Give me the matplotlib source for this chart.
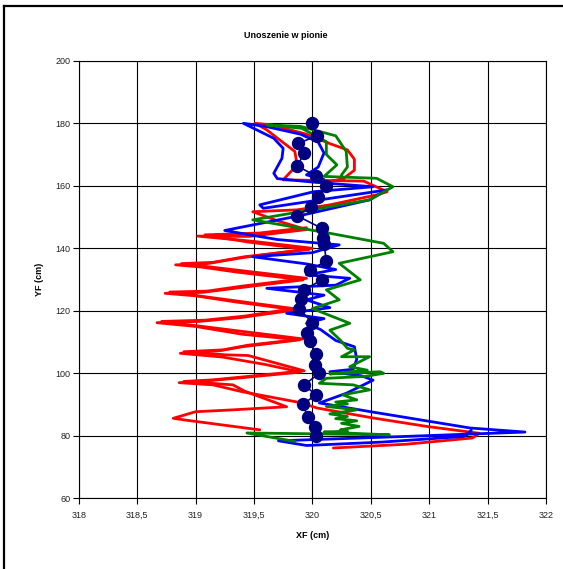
import matplotlib
matplotlib.use("Agg")
import matplotlib.pyplot as plt
from matplotlib.lines import Line2D

plt.rcParams['font.family'] = ['Liberation Sans', 'DejaVu Sans']

TITLE = "Unoszenie w pionie"
XLABEL = "XF (cm)"
YLABEL = "YF (cm)"
X_TICKS = [318, 318.5, 319, 319.5, 320, 320.5, 321, 321.5, 322]
X_TICK_LABELS = ["318", "318,5", "319", "319,5", "320", "320,5", "321", "321,5", "322"]
Y_TICKS = [60, 80, 100, 120, 140, 160, 180, 200]

# red trace, first pass (bottom -> top)
RED_A_X = [320.18, 320.80, 321.37, 321.43, 320.98, 320.52, 320.04, 319.90, 319.40, 319.15,
           318.86, 319.10, 319.40, 319.90, 319.60, 319.23, 318.87, 319.20, 319.40, 319.89,
           319.40, 319.00, 318.67, 319.03, 319.38, 319.86, 319.35, 319.00, 318.74, 319.06,
           319.38, 319.92, 319.35, 319.05, 318.83, 319.10, 319.40, 320.00, 319.50, 319.02,
           319.46, 319.95, 319.70, 319.49, 319.87, 320.15, 320.55, 320.64, 320.44, 319.75,
           319.79, 319.87, 319.85, 319.72, 319.61, 319.51, 319.65, 319.95, 320.15, 320.30,
           320.36, 320.36, 320.27, 320.15]
RED_A_Y = [76.1, 77.3, 79.3, 80.8, 83.0, 85.7, 88.9, 90.6, 94.1, 96.3,
           97.0, 97.6, 98.6, 100.4, 102.8, 105.2, 106.4, 107.2, 108.5, 110.7,
           112.5, 115.0, 116.2, 116.6, 117.8, 120.3, 122.8, 124.8, 125.6, 125.9,
           127.4, 129.9, 132.4, 134.0, 134.7, 135.1, 137.0, 140.0, 142.2, 143.9,
           143.8, 146.0, 148.8, 151.7, 152.3, 153.9, 157.1, 158.1, 161.5, 161.9,
           163.5, 166.7, 171.0, 174.7, 177.9, 180.0, 179.5, 176.5, 173.5, 171.5,
           168.5, 165.0, 162.4, 161.3]

# red trace, second pass (top -> bottom)
RED_B_X = [319.95, 319.55, 319.08, 319.45, 319.97, 319.42, 319.15, 318.88, 319.95, 319.40,
           319.10, 318.78, 319.84, 319.42, 319.08, 318.71, 319.92, 319.45, 319.24, 318.90,
           319.26, 319.45, 319.93, 319.45, 319.15, 318.90, 319.32, 319.42, 319.78, 319.32,
           319.00, 318.81, 318.92, 319.55]
RED_B_Y = [146.6, 144.9, 144.3, 142.0, 139.6, 137.3, 135.5, 135.1, 130.4, 127.9,
           126.3, 126.0, 120.7, 118.3, 117.0, 116.6, 111.0, 109.0, 107.5, 106.9,
           105.9, 105.7, 100.8, 99.0, 97.9, 97.4, 96.3, 94.3, 89.3, 88.3,
           87.7, 85.6, 85.0, 81.9]

BLUE_X = [321.36, 321.30, 320.60, 319.95, 319.71, 320.80, 321.82, 321.35, 320.50, 320.06,
          320.29, 320.52, 320.42, 320.15, 320.35, 320.38, 320.36, 320.20, 320.07, 319.95,
          320.10, 319.78, 320.15, 319.95, 320.10, 319.61, 320.20, 320.32, 319.95, 320.20,
          319.95, 319.49, 320.00, 320.23, 319.70, 319.25, 319.90, 320.49, 320.64, 319.58,
          319.55, 320.01, 320.52, 320.00, 319.70, 319.67, 319.74, 319.75, 319.67, 319.41,
          319.60, 319.90, 320.05, 320.10, 320.05, 319.95, 320.10]
BLUE_Y = [81.7, 79.8, 78.0, 76.9, 78.4, 79.8, 81.2, 82.5, 87.7, 90.5,
          93.6, 97.8, 99.2, 100.5, 101.3, 104.5, 108.5, 110.5, 114.0, 116.0,
          117.5, 119.2, 121.0, 123.5, 125.0, 127.2, 128.2, 130.4, 131.5, 133.2,
          135.0, 137.3, 138.6, 141.1, 142.8, 145.7, 150.5, 155.5, 158.7, 152.8,
          153.9, 158.1, 159.7, 161.2, 162.3, 164.0, 168.8, 172.0, 175.2, 180.0,
          179.0, 176.5, 174.0, 170.5, 166.0, 163.5, 162.0]

GREEN_X = [319.85, 319.44, 320.10, 320.66, 320.10, 320.30, 320.24, 320.40, 320.25, 320.38,
           320.20, 320.30, 320.15, 320.38, 320.12, 320.30, 320.20, 320.38, 320.26, 320.49,
           320.35, 320.06, 320.12, 320.45, 320.61, 320.58, 320.15, 320.47, 320.32, 320.49,
           320.25, 320.36, 320.30, 320.24, 320.15, 320.32, 320.00, 320.23, 320.12, 320.41,
           320.23, 320.69, 320.61, 320.15, 319.49, 320.49, 320.69, 320.55, 320.10, 320.21,
           320.12, 320.12, 319.91, 319.61, 319.90, 320.20, 320.29, 320.30, 320.25]
GREEN_Y = [78.2, 80.9, 80.6, 80.3, 81.2, 81.5, 81.9, 83.0, 84.0, 84.8,
           85.5, 86.2, 87.0, 88.3, 89.4, 90.2, 90.8, 91.5, 93.1, 94.7,
           96.3, 96.8, 98.4, 99.0, 100.0, 100.5, 99.8, 101.0, 102.1, 105.3,
           105.3, 107.5, 108.0, 110.6, 113.8, 116.0, 120.7, 123.5, 126.7, 129.9,
           135.2, 138.9, 141.6, 144.8, 149.1, 155.5, 159.7, 162.4, 163.0, 166.7,
           170.0, 174.1, 178.4, 179.5, 179.0, 176.0, 171.0, 166.0, 163.5]

DOT_X = [320.00, 320.04, 319.88, 319.93, 319.87, 320.03, 320.12, 320.05, 319.99, 319.87,
         320.08, 320.09, 320.10, 320.12, 319.98, 320.08, 319.93, 319.90, 319.89, 320.00,
         319.95, 319.98, 320.03, 320.02, 320.06, 319.93, 320.03, 319.92, 319.96, 320.02,
         320.03]
DOT_Y = [180.0, 176.0, 173.6, 170.4, 166.3, 163.2, 159.9, 156.3, 153.3, 150.4,
         146.4, 143.2, 141.4, 135.9, 133.1, 129.9, 126.7, 123.7, 120.5, 116.2,
         113.0, 110.3, 106.2, 102.7, 100.0, 96.3, 93.1, 90.1, 86.1, 82.9,
         79.9]

fig = plt.figure(figsize=(5.63, 5.69), dpi=100)
ax = fig.add_axes([78.7 / 563, 1 - 498.3 / 569, (546 - 78.7) / 563, (498.3 - 60.8) / 569])

line_kw = dict(lw=2.0, solid_joinstyle='round', solid_capstyle='round')
ax.plot(RED_A_X, RED_A_Y, color='#FF0000', zorder=3, **line_kw)
ax.plot(RED_B_X, RED_B_Y, color='#FF0000', zorder=3, **line_kw)
ax.plot(BLUE_X, BLUE_Y, color='#0000FF', zorder=4, **line_kw)
ax.plot(GREEN_X, GREEN_Y, color='#008000', zorder=5, **line_kw)
ax.plot(DOT_X, DOT_Y, color='#000080', lw=1.2, marker='o', markersize=8.6,
        markerfacecolor='#000080', markeredgecolor='#000080', zorder=6)

ax.set_xlim(318, 322)
ax.set_ylim(60, 200)
ax.set_xticks(X_TICKS)
ax.set_xticklabels(X_TICK_LABELS)
ax.set_yticks(Y_TICKS)
ax.set_yticklabels([str(v) for v in Y_TICKS])
ax.tick_params(axis='both', labelsize=6.5, length=4, width=0.8, color='black',
               labelcolor='#222222', direction='out')
ax.tick_params(axis='x', pad=5)
ax.tick_params(axis='y', pad=2)
ax.grid(True, color='black', lw=0.8, zorder=0)
ax.set_axisbelow(True)
for s in ax.spines.values():
    s.set_color('black')
    s.set_linewidth(0.8)

ax.set_xlabel(XLABEL, fontsize=6.5, fontweight='bold', labelpad=8)
ax.set_ylabel(YLABEL, fontsize=6.5, fontweight='bold', labelpad=8)
fig.text(286 / 563, 1 - 36 / 569, TITLE, fontsize=6.5, fontweight='bold',
         ha='center', va='center')

# figure frame (left and top edges visible)
fig.add_artist(Line2D([4 / 563, 4 / 563], [0, 1 - 6 / 569], transform=fig.transFigure,
                      color='black', lw=1.6))
fig.add_artist(Line2D([4 / 563, 1], [1 - 6 / 569, 1 - 6 / 569], transform=fig.transFigure,
                      color='black', lw=1.6))

fig.savefig('out.png', dpi=100)
